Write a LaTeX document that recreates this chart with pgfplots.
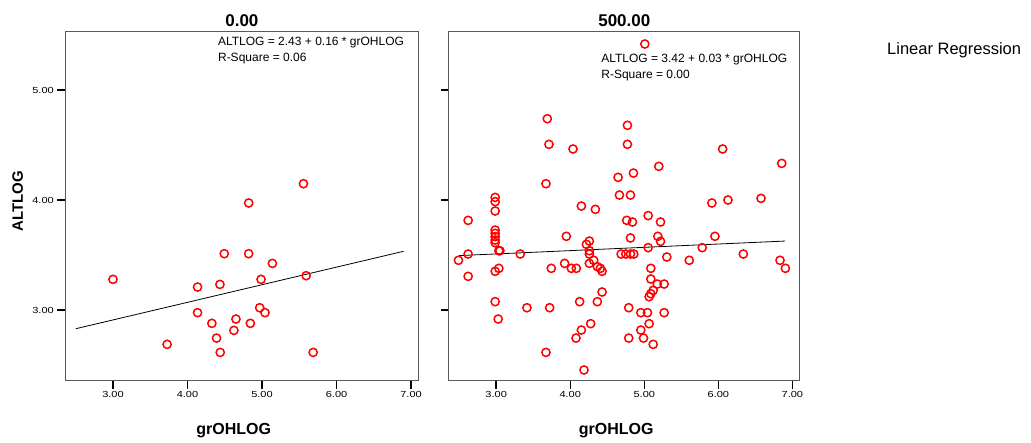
\documentclass[border=0pt]{standalone}
\usepackage{fontspec}
\setmainfont{Liberation Sans}
\usepackage{pgfplots}
\pgfplotsset{compat=1.18}
\pgfplotstableread{
x y
3.000 3.279
3.726 2.688
4.135 3.209
4.135 2.976
4.327 2.879
4.390 2.745
4.439 2.615
4.435 3.233
4.493 3.512
4.623 2.815
4.650 2.918
4.821 3.973
4.821 3.512
4.843 2.879
4.969 3.021
4.987 3.279
5.040 2.976
5.139 3.424
5.556 4.148
5.592 3.312
5.686 2.615
}\lefttab
\pgfplotstableread{
x y
5.007 5.418
3.690 4.739
4.772 4.679
3.713 4.506
4.772 4.506
4.037 4.464
6.058 4.464
6.856 4.333
5.196 4.306
4.853 4.245
4.646 4.206
3.672 4.148
4.664 4.045
4.813 4.045
2.986 4.024
2.986 3.985
2.986 3.900
6.576 4.015
6.130 4.000
5.913 3.973
4.150 3.945
4.339 3.915
5.052 3.858
2.621 3.815
4.763 3.815
4.840 3.800
5.219 3.800
2.986 3.727
2.986 3.697
2.986 3.667
2.986 3.636
2.986 3.612
3.947 3.670
4.813 3.655
5.183 3.670
5.219 3.624
5.954 3.670
4.258 3.627
4.218 3.597
3.036 3.539
3.050 3.539
5.052 3.567
5.782 3.567
2.621 3.509
3.325 3.509
4.258 3.539
4.258 3.509
4.687 3.509
4.750 3.509
4.813 3.509
4.858 3.509
6.337 3.509
2.490 3.452
4.317 3.452
5.304 3.482
5.607 3.452
6.833 3.452
4.258 3.424
3.924 3.424
3.744 3.379
4.015 3.379
4.082 3.379
4.366 3.394
4.407 3.379
4.430 3.352
2.986 3.352
3.036 3.379
5.088 3.379
6.905 3.379
2.621 3.306
5.088 3.282
5.174 3.236
5.268 3.236
5.120 3.179
5.088 3.148
5.065 3.121
4.430 3.164
4.366 3.076
4.127 3.076
2.986 3.076
3.415 3.021
3.722 3.021
4.790 3.021
4.953 2.976
5.043 2.976
5.268 2.976
3.027 2.918
4.276 2.876
5.065 2.876
4.150 2.818
4.953 2.818
4.078 2.745
4.790 2.745
4.989 2.745
5.120 2.688
3.672 2.615
4.186 2.455
}\righttab
\pgfplotsset{
  panel/.style={
    scale only axis, height=349.3pt,
    xmin=2.36, xmax=7.1, ymin=2.355, ymax=5.53,
    xtick={3,4,5,6,7}, ytick={3,4,5},
    xtick pos=bottom, ytick pos=left,
    tick align=outside, major tick length=8pt,
    every tick/.style={black, line width=1.4pt},
    axis line style={black!65, line width=1pt},
    /pgf/number format/fixed, /pgf/number format/fixed zerofill,
    /pgf/number format/precision=2, /pgf/number format/assume math mode=true,
    tick label style={font=\fontsize{11}{12}\selectfont, yscale=0.8},
    title style={font=\fontsize{17}{18}\bfseries, at={(axis description cs:0.5,1.015)}, anchor=center},
    xlabel style={font=\fontsize{16}{18}\bfseries, at={(axis description cs:0.477,-0.143)}, anchor=center},
    ylabel style={font=\fontsize{15}{18}\bfseries},
    clip=false,
  },
  pts/.style={only marks, mark=o, mark size=4.1pt, red, mark options={line width=1.5pt}},
}
\tikzset{eq/.style={anchor=west, font=\fontsize{12}{14}\selectfont, inner sep=0pt}}
\begin{document}
\begin{tikzpicture}
\useasboundingbox (0,0) rectangle (1031pt,443pt);
\begin{axis}[panel, width=353.2pt, at={(65.3pt,62pt)}, anchor=south west,
  title={0.00}, xlabel={grOHLOG}, ylabel={ALTLOG},
  ylabel style={at={(axis description cs:-0.135,0.515)}, anchor=center},
  yticklabel style={xshift=0pt}]
\addplot[pts] table[x=x,y=y] {\lefttab};
\addplot[black, line width=0.8pt] coordinates {(2.5,2.830) (6.9,3.534)};
\node[eq] at (rel axis cs:0.432,0.9685) {ALTLOG = 2.43 + 0.16 * grOHLOG};
\node[eq] at (rel axis cs:0.432,0.924) {R-Square = 0.06};
\end{axis}
\begin{axis}[panel, width=351pt, at={(448.8pt,62pt)}, anchor=south west,
  title={500.00}, xlabel={grOHLOG}, yticklabels={}]
\addplot[pts] table[x=x,y=y] {\righttab};
\addplot[black, line width=0.8pt] coordinates {(2.5,3.495) (6.9,3.627)};
\node[eq] at (rel axis cs:0.434,0.919) {ALTLOG = 3.42 + 0.03 * grOHLOG};
\node[eq] at (rel axis cs:0.434,0.873) {R-Square = 0.00};
\end{axis}
\node[anchor=west, font=\fontsize{16.5}{18}\selectfont, inner sep=0pt] at (887pt,393pt) {Linear Regression};
\end{tikzpicture}
\end{document}
